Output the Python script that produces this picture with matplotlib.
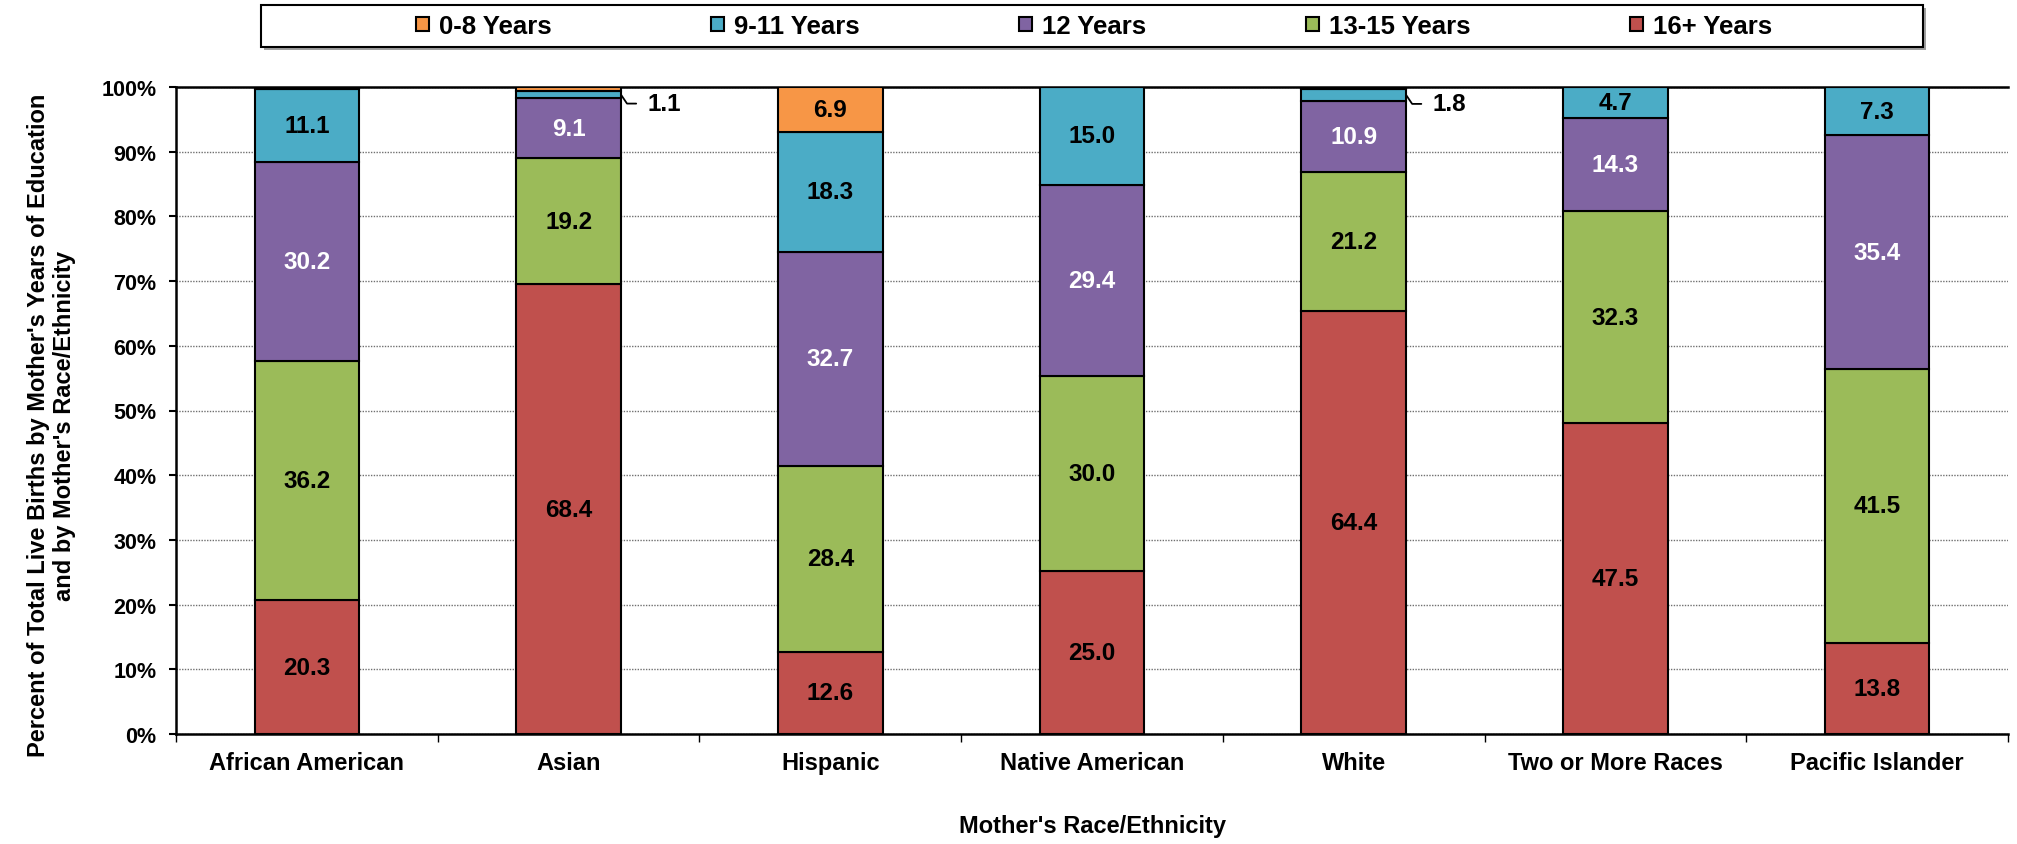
import matplotlib
matplotlib.use('Agg')
import matplotlib.pyplot as plt
from matplotlib.patches import Patch, Rectangle
import numpy as np

plt.rcParams['font.family'] = ['Liberation Sans', 'DejaVu Sans']
plt.rcParams['font.weight'] = 'bold'
plt.rcParams['axes.labelweight'] = 'bold'

# values (percent); bars are drawn as 100% stacks
categories = ['African American', 'Asian', 'Hispanic', 'Native American',
              'White', 'Two or More Races', 'Pacific Islander']
yrs_0_8 = [0.3, 0.6, 6.9, 0.0, 0.3, 0.0, 0.0]
yrs_9_11 = [11.1, 1.1, 18.3, 15.0, 1.8, 4.7, 7.3]
yrs_12 = [30.2, 9.1, 32.7, 29.4, 10.9, 14.3, 35.4]
yrs_13_15 = [36.2, 19.2, 28.4, 30.0, 21.2, 32.3, 41.5]
yrs_16 = [20.3, 68.4, 12.6, 25.0, 64.4, 47.5, 13.8]

series_names = ['16+ Years', '13-15 Years', '12 Years', '9-11 Years', '0-8 Years']
series_vals = [yrs_16, yrs_13_15, yrs_12, yrs_9_11, yrs_0_8]
colors = ['#C0504D', '#9BBB59', '#8064A2', '#4BACC6', '#F79646']
text_colors = ['black', 'black', 'white', 'black', 'black']

raw = np.array(series_vals)
pct = raw / raw.sum(axis=0) * 100

fig = plt.figure(figsize=(20.17, 8.45), dpi=100)
ax = fig.add_axes([176/2017, 110/845, 1832/2017, 647/845])

x = np.arange(len(categories))
width = 0.4
bottom = np.zeros(len(categories))
for k in range(len(series_names)):
    ax.bar(x, pct[k], width, bottom=bottom, color=colors[k],
           edgecolor='black', linewidth=1.5, zorder=3)
    for i in range(len(categories)):
        v = raw[k, i]
        mid = bottom[i] + pct[k, i] / 2
        if v >= 2:
            ax.text(x[i], mid, f'{v:.1f}', ha='center', va='center',
                    fontsize=17.5, color=text_colors[k], zorder=4)
        elif k == 3 and v > 0:
            # small 9-11 segment gets a callout
            ax.annotate(f'{v:.1f}', xy=(x[i] + width/2, mid),
                        xytext=(19, -6.5), textcoords='offset points',
                        ha='left', va='center', fontsize=17.5,
                        arrowprops=dict(arrowstyle='-', color='black', lw=1.3,
                                        relpos=(0, 0.5), shrinkA=6, shrinkB=0,
                                        connectionstyle='angle,angleA=0,angleB=-56'))
    bottom += pct[k]

ax.set_xlim(-0.5, len(categories) - 0.5)
ax.set_ylim(0, 100)
ax.set_yticks(np.arange(0, 101, 10))
ax.set_yticklabels([f'{t}%' for t in range(0, 101, 10)])
ax.set_xticks(x)
ax.set_xticklabels(categories)
ax.set_xticks(np.arange(-0.5, len(categories)), minor=True)
ax.tick_params(axis='x', which='major', length=0, pad=12, labelsize=17)
ax.tick_params(axis='x', which='minor', length=6, width=1, direction='out')
ax.tick_params(axis='y', length=5, width=1.5, pad=9, labelsize=15.5)

ax.yaxis.grid(True, color='#707070', linestyle=(0, (1, 1)), linewidth=1, zorder=0)
ax.set_axisbelow(True)
for s in ['left', 'bottom', 'top']:
    ax.spines[s].set_linewidth(1.8)
ax.spines['right'].set_visible(False)

ax.set_xlabel("Mother's Race/Ethnicity", fontsize=17, labelpad=29)
ax.set_ylabel("Percent of Total Live Births by Mother's Years of Education\n"
              "and by Mother's Race/Ethnicity", fontsize=17, va='center')
ax.yaxis.set_label_coords(-0.068, 0.478)

# legend, in the order shown above the chart
handles = [Patch(facecolor=colors[k], edgecolor='black', linewidth=1.5, label=series_names[k])
           for k in [4, 3, 2, 1, 0]]
fig.legend(handles=handles, loc='center', bbox_to_anchor=(1094/2017, 1 - 27/845),
           ncol=5, frameon=False, fontsize=18.5, columnspacing=6.2,
           handlelength=0.5, handleheight=0.5, handletextpad=0.4)
fig.patches.append(Rectangle((264/2017, 1 - 51/845), 1662/2017, 42/845,
                             transform=fig.transFigure, facecolor='#A0A0A0',
                             edgecolor='none', zorder=0))
fig.patches.append(Rectangle((261/2017, 1 - 48/845), 1662/2017, 42/845,
                             transform=fig.transFigure, facecolor='white',
                             edgecolor='black', linewidth=1.5, zorder=1))

fig.savefig('out.png', dpi=100)
